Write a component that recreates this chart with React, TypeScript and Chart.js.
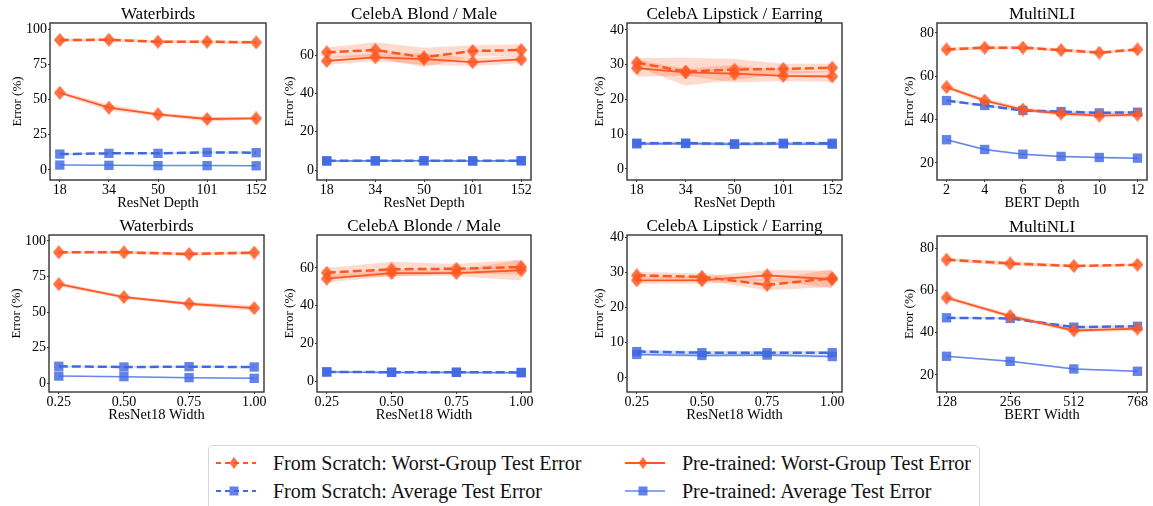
import React, { useEffect, useRef } from 'react';
import { Chart, registerables } from 'chart.js';
Chart.register(...registerables);

const FONT = "'Liberation Serif', 'Times New Roman', serif";
const ORANGE = '#ff5722';
const ORANGE_PT = 'rgba(255,87,34,0.85)';
const ORANGE_BAND = 'rgba(255,87,34,0.22)';
const BLUE = '#4169e1';
const BLUE_LIGHT = 'rgba(65,105,225,0.75)';
const BLUE_PT = 'rgba(65,105,225,0.82)';
const BLUE_BAND = 'rgba(65,105,225,0.2)';
const FRAME = '#333333';

// ---------- tick labels ----------
const depthLabels = ['18', '34', '50', '101', '152'];
const bertDepthLabels = ['2', '4', '6', '8', '10', '12'];
const widthLabels = ['0.25', '0.50', '0.75', '1.00'];
const bertWidthLabels = ['128', '256', '512', '768'];
const ticks100 = [0, 25, 50, 75, 100];
const ticks60 = [0, 20, 40, 60];
const ticks40 = [0, 10, 20, 30, 40];
const ticks80 = [20, 40, 60, 80];

// ---------- Waterbirds / depth ----------
const wbDepthSW = [92.2, 92.4, 91.0, 91.0, 90.5];
const wbDepthSWsd = [1.0, 1.0, 1.0, 1.0, 1.2];
const wbDepthPW = [54.8, 44.2, 39.5, 36.2, 36.6];
const wbDepthPWsd = [1.2, 2.2, 1.2, 1.8, 0.8];
const wbDepthSA = [11.3, 11.8, 11.8, 12.5, 12.3];
const wbDepthSAsd = [0.6, 0.6, 0.6, 0.8, 0.6];
const wbDepthPA = [3.5, 3.3, 3.1, 3.1, 3.0];
const wbDepthPAsd = [0.4, 0.4, 0.4, 0.4, 0.4];

// ---------- CelebA Blond / depth ----------
const cbDepthSW = [61.4, 62.6, 58.8, 62.1, 62.6];
const cbDepthSWsd = [2.5, 4.0, 5.0, 3.0, 3.0];
const cbDepthPW = [56.9, 58.8, 57.9, 56.3, 57.7];
const cbDepthPWsd = [2.0, 2.0, 3.0, 2.0, 2.0];
const cbDepthSA = [4.8, 4.8, 4.9, 4.8, 4.9];
const cbDepthSAsd = [0.4, 0.4, 0.4, 0.4, 0.4];
const cbDepthPA = [4.7, 4.8, 4.8, 4.7, 4.8];
const cbDepthPAsd = [0.4, 0.4, 0.4, 0.4, 0.4];

// ---------- CelebA Lipstick / depth ----------
const clDepthSW = [30.6, 28.0, 28.6, 28.8, 29.1];
const clDepthSWsd = [1.3, 4.0, 3.0, 1.5, 1.2];
const clDepthPW = [29.0, 27.8, 27.4, 26.8, 26.6];
const clDepthPWsd = [2.5, 1.0, 2.5, 1.5, 1.5];
const clDepthSA = [7.4, 7.4, 7.2, 7.4, 7.4];
const clDepthSAsd = [0.5, 0.5, 0.5, 0.5, 0.5];
const clDepthPA = [7.2, 7.3, 7.1, 7.2, 7.1];
const clDepthPAsd = [0.4, 0.4, 0.4, 0.4, 0.4];

// ---------- MultiNLI / depth ----------
const mnDepthSW = [72.4, 73.2, 73.2, 72.1, 70.9, 72.4];
const mnDepthSWsd = [0.8, 0.8, 0.8, 0.8, 0.8, 0.8];
const mnDepthPW = [55.0, 48.8, 44.6, 42.8, 41.8, 42.3];
const mnDepthPWsd = [1.0, 1.0, 1.0, 1.0, 1.0, 1.0];
const mnDepthSA = [48.8, 46.5, 44.2, 43.7, 43.1, 43.4];
const mnDepthSAsd = [0.6, 0.6, 0.6, 0.6, 0.6, 0.6];
const mnDepthPA = [30.7, 26.2, 24.0, 23.0, 22.5, 22.2];
const mnDepthPAsd = [0.5, 0.5, 0.5, 0.5, 0.5, 0.5];

// ---------- Waterbirds / width ----------
const wbWidthSW = [92.0, 92.0, 90.8, 91.8];
const wbWidthSWsd = [1.2, 1.2, 1.2, 1.2];
const wbWidthPW = [69.6, 60.5, 55.8, 52.7];
const wbWidthPWsd = [1.5, 1.2, 1.2, 2.0];
const wbWidthSA = [11.8, 11.3, 11.5, 11.3];
const wbWidthSAsd = [0.6, 0.6, 0.6, 0.6];
const wbWidthPA = [4.9, 4.5, 3.8, 3.3];
const wbWidthPAsd = [0.4, 0.4, 0.4, 0.4];

// ---------- CelebA Blonde / width ----------
const cbWidthSW = [57.5, 59.3, 59.6, 60.5];
const cbWidthSWsd = [2.5, 4.0, 2.5, 4.0];
const cbWidthPW = [54.3, 57.3, 57.3, 58.8];
const cbWidthPWsd = [2.0, 1.5, 1.5, 5.5];
const cbWidthSA = [4.9, 4.7, 4.7, 4.6];
const cbWidthSAsd = [0.4, 0.4, 0.4, 0.4];
const cbWidthPA = [4.8, 4.6, 4.6, 4.4];
const cbWidthPAsd = [0.4, 0.4, 0.4, 0.4];

// ---------- CelebA Lipstick / width ----------
const clWidthSW = [29.2, 28.8, 26.5, 28.4];
const clWidthSWsd = [1.0, 1.0, 1.5, 2.5];
const clWidthPW = [27.8, 27.8, 29.2, 28.1];
const clWidthPWsd = [1.0, 1.0, 1.5, 2.5];
const clWidthSA = [7.5, 7.2, 7.2, 7.2];
const clWidthSAsd = [0.5, 0.5, 0.5, 0.5];
const clWidthPA = [6.7, 6.4, 6.5, 6.1];
const clWidthPAsd = [0.4, 0.4, 0.4, 0.4];

// ---------- MultiNLI / width ----------
const mnWidthSW = [74.5, 72.7, 71.5, 72.1];
const mnWidthSWsd = [0.8, 1.2, 0.6, 0.6];
const mnWidthPW = [56.5, 47.8, 41.0, 41.9];
const mnWidthPWsd = [1.0, 1.0, 1.0, 1.0];
const mnWidthSA = [47.0, 46.7, 42.6, 43.0];
const mnWidthSAsd = [0.5, 0.5, 0.5, 0.5];
const mnWidthPA = [28.8, 26.4, 22.8, 21.7];
const mnWidthPAsd = [0.4, 0.4, 0.4, 0.4];

type Kind = 'sw' | 'pw' | 'sa' | 'pa';
type Series = { kind: Kind; data: number[]; sd: number[] };
type Panel = {
  title: string; xTitle: string; labels: string[]; series: Series[];
  yMin: number; yMax: number; yTicks: number[];
  L: number; R: number; T: number; B: number; rowTop: number; wy: number;
};

const mk = (sw: number[], sws: number[], pw: number[], pws: number[], sa: number[], sas: number[], pa: number[], pas: number[]): Series[] => [
  { kind: 'pa', data: pa, sd: pas },
  { kind: 'sa', data: sa, sd: sas },
  { kind: 'pw', data: pw, sd: pws },
  { kind: 'sw', data: sw, sd: sws },
];

const panels: Panel[] = [
  { title: 'Waterbirds', xTitle: 'ResNet Depth', labels: depthLabels,
    series: mk(wbDepthSW, wbDepthSWsd, wbDepthPW, wbDepthPWsd, wbDepthSA, wbDepthSAsd, wbDepthPA, wbDepthPAsd),
    yMin: -7.1, yMax: 104.3, yTicks: ticks100, L: 50, R: 266, T: 23, B: 180, rowTop: 0, wy: 40 },
  { title: 'CelebA Blond / Male', xTitle: 'ResNet Depth', labels: depthLabels,
    series: mk(cbDepthSW, cbDepthSWsd, cbDepthPW, cbDepthPWsd, cbDepthSA, cbDepthSAsd, cbDepthPA, cbDepthPAsd),
    yMin: -5.2, yMax: 76.7, yTicks: ticks60, L: 317, R: 531, T: 23, B: 180, rowTop: 0, wy: 35 },
  { title: 'CelebA Lipstick / Earring', xTitle: 'ResNet Depth', labels: depthLabels,
    series: mk(clDepthSW, clDepthSWsd, clDepthPW, clDepthPWsd, clDepthSA, clDepthSAsd, clDepthPA, clDepthPAsd),
    yMin: -3.2, yMax: 42.0, yTicks: ticks40, L: 627, R: 842, T: 23, B: 180, rowTop: 0, wy: 35 },
  { title: 'MultiNLI', xTitle: 'BERT Depth', labels: bertDepthLabels,
    series: mk(mnDepthSW, mnDepthSWsd, mnDepthPW, mnDepthPWsd, mnDepthSA, mnDepthSAsd, mnDepthPA, mnDepthPAsd),
    yMin: 12.1, yMax: 84.6, yTicks: ticks80, L: 937, R: 1147, T: 23, B: 180, rowTop: 0, wy: 35 },
  { title: 'Waterbirds', xTitle: 'ResNet18 Width', labels: widthLabels,
    series: mk(wbWidthSW, wbWidthSWsd, wbWidthPW, wbWidthPWsd, wbWidthSA, wbWidthSAsd, wbWidthPA, wbWidthPAsd),
    yMin: -6.3, yMax: 104.2, yTicks: ticks100, L: 49, R: 264, T: 235, B: 392, rowTop: 215, wy: 40 },
  { title: 'CelebA Blonde / Male', xTitle: 'ResNet18 Width', labels: widthLabels,
    series: mk(cbWidthSW, cbWidthSWsd, cbWidthPW, cbWidthPWsd, cbWidthSA, cbWidthSAsd, cbWidthPA, cbWidthPAsd),
    yMin: -5.8, yMax: 77.5, yTicks: ticks60, L: 317, R: 531, T: 235, B: 392, rowTop: 215, wy: 35 },
  { title: 'CelebA Lipstick / Earring', xTitle: 'ResNet18 Width', labels: widthLabels,
    series: mk(clWidthSW, clWidthSWsd, clWidthPW, clWidthPWsd, clWidthSA, clWidthSAsd, clWidthPA, clWidthPAsd),
    yMin: -4.0, yMax: 40.7, yTicks: ticks40, L: 627, R: 842, T: 235, B: 392, rowTop: 215, wy: 35 },
  { title: 'MultiNLI', xTitle: 'BERT Width', labels: bertWidthLabels,
    series: mk(mnWidthSW, mnWidthSWsd, mnWidthPW, mnWidthPWsd, mnWidthSA, mnWidthSAsd, mnWidthPA, mnWidthPAsd),
    yMin: 11.9, yMax: 85.7, yTicks: ticks80, L: 937, R: 1147, T: 236, B: 392, rowTop: 215, wy: 35 },
];

const HX = 32;
const PAD_R = 12;

function makeDiamond(w: number, h: number, color: string): HTMLCanvasElement {
  const c = document.createElement('canvas');
  c.width = w; c.height = h;
  const g = c.getContext('2d')!;
  g.fillStyle = color;
  g.beginPath();
  g.moveTo(w / 2, 0); g.lineTo(w, h / 2); g.lineTo(w / 2, h); g.lineTo(0, h / 2);
  g.closePath(); g.fill();
  return c;
}

const framePlugin = {
  id: 'frame',
  afterDraw(chart: any) {
    const { ctx, chartArea: a } = chart;
    ctx.save();
    ctx.strokeStyle = FRAME;
    ctx.lineWidth = 1.4;
    ctx.strokeRect(a.left, a.top, a.right - a.left, a.bottom - a.top);
    ctx.restore();
  },
};

const panelTitlePlugin = {
  id: 'panelTitle',
  afterDraw(chart: any, _args: any, opts: any) {
    const { ctx, chartArea: a } = chart;
    ctx.save();
    ctx.fillStyle = '#000';
    ctx.font = `17px ${FONT}`;
    ctx.textAlign = 'center';
    ctx.textBaseline = 'middle';
    ctx.fillText(opts.text, (a.left + a.right) / 2, a.top - 8.5);
    ctx.restore();
  },
};

function styleFor(kind: Kind, diamond: HTMLCanvasElement) {
  switch (kind) {
    case 'sw': return { color: ORANGE, dash: [9, 4], width: 2.5, point: diamond as any, pc: ORANGE_PT, band: ORANGE_BAND };
    case 'pw': return { color: ORANGE, dash: [] as number[], width: 1.8, point: diamond as any, pc: ORANGE_PT, band: ORANGE_BAND };
    case 'sa': return { color: BLUE, dash: [9, 4], width: 2.5, point: 'rect', pc: BLUE_PT, band: BLUE_BAND };
    default: return { color: BLUE_LIGHT, dash: [] as number[], width: 1.5, point: 'rect', pc: BLUE_PT, band: BLUE_BAND };
  }
}

function PanelChart({ p }: { p: Panel }) {
  const ref = useRef<HTMLCanvasElement>(null);
  const w = (p.R - p.L) + p.wy + PAD_R;
  const h = (p.B - p.rowTop) + HX;
  useEffect(() => {
    const diamond = makeDiamond(12, 14, ORANGE_PT);
    const n = p.labels.length;
    const datasets: any[] = [];
    p.series.forEach((s) => {
      const st = styleFor(s.kind, diamond);
      const upIdx = datasets.length;
      datasets.push({
        data: s.data.map((v, i) => ({ x: i, y: v + s.sd[i] })),
        borderWidth: 0, pointRadius: 0, fill: false, order: 10,
      });
      datasets.push({
        data: s.data.map((v, i) => ({ x: i, y: v - s.sd[i] })),
        borderWidth: 0, pointRadius: 0, fill: upIdx, backgroundColor: st.band, order: 10,
      });
    });
    p.series.forEach((s, k) => {
      const st = styleFor(s.kind, diamond);
      datasets.push({
        data: s.data.map((v, i) => ({ x: i, y: v })),
        borderColor: st.color, borderWidth: st.width, borderDash: st.dash,
        pointStyle: st.point, pointRadius: 6.6, pointBackgroundColor: st.pc,
        pointBorderWidth: 0, fill: false, tension: 0, order: 4 - k,
      });
    });
    const chart = new Chart(ref.current!, {
      type: 'line',
      data: { datasets },
      plugins: [framePlugin, panelTitlePlugin],
      options: {
        animation: false, responsive: false, devicePixelRatio: 1, events: [],
        layout: { padding: { top: p.T - p.rowTop, right: PAD_R, left: 0, bottom: 0 } },
        plugins: {
          legend: { display: false }, tooltip: { enabled: false }, title: { display: false },
          panelTitle: { text: p.title },
        },
        scales: {
          x: {
            type: 'linear', min: -0.05 * (n - 1), max: (n - 1) * 1.05,
            afterBuildTicks: (sc: any) => { sc.ticks = p.labels.map((_, i) => ({ value: i })); },
            afterFit: (sc: any) => { sc.height = HX; },
            ticks: { callback: (v: any) => p.labels[Math.round(Number(v))] ?? '', color: '#000',
              font: { family: FONT, size: 14, lineHeight: 1 }, padding: 1, maxRotation: 0, autoSkip: false },
            grid: { display: true, drawOnChartArea: false, drawTicks: true, tickLength: 2, color: FRAME },
            border: { display: false },
            title: { display: true, text: p.xTitle, color: '#000', padding: 0,
              font: { family: FONT, size: 14.5, lineHeight: 1.2 } },
          },
          y: {
            type: 'linear', min: p.yMin, max: p.yMax,
            afterBuildTicks: (sc: any) => { sc.ticks = p.yTicks.map((v) => ({ value: v })); },
            afterFit: (sc: any) => { sc.width = p.wy; },
            ticks: { callback: (v: any) => String(v), color: '#000',
              font: { family: FONT, size: 14, lineHeight: 1 }, padding: 1, autoSkip: false },
            grid: { display: true, drawOnChartArea: false, drawTicks: true, tickLength: 2, color: FRAME },
            border: { display: false },
            title: { display: true, text: 'Error (%)', color: '#000', padding: 0,
              font: { family: FONT, size: 13, lineHeight: 1.2 } },
          },
        },
      } as any,
    });
    return () => chart.destroy();
  }, []);
  return (
    <canvas ref={ref} width={w} height={h}
      style={{ position: 'absolute', left: p.L - p.wy, top: p.rowTop, width: w, height: h }} />
  );
}

const legendItems: { label: string; kind: Kind; x: number; tx: number; y: number }[] = [
  { label: 'From Scratch: Worst-Group Test Error', kind: 'sw', x: 216, tx: 273, y: 463 },
  { label: 'Pre-trained: Worst-Group Test Error', kind: 'pw', x: 625, tx: 682, y: 463 },
  { label: 'From Scratch: Average Test Error', kind: 'sa', x: 216, tx: 273, y: 491 },
  { label: 'Pre-trained: Average Test Error', kind: 'pa', x: 625, tx: 682, y: 491 },
];

function LegendMarker({ kind }: { kind: Kind }) {
  const orange = kind === 'sw' || kind === 'pw';
  const dashed = kind === 'sw' || kind === 'sa';
  const lineColor = orange ? ORANGE : kind === 'sa' ? BLUE : 'rgba(65,105,225,0.6)';
  return (
    <svg width={40} height={16} style={{ display: 'block' }}>
      <line x1={0} y1={8} x2={40} y2={8} stroke={lineColor} strokeWidth={dashed ? 2 : 1.8}
        strokeDasharray={dashed ? '5 4' : undefined} />
      {orange
        ? <polygon points="18,2 22.5,8 18,14 13.5,8" fill={ORANGE_PT} />
        : <rect x={13.5} y={3.5} width={9} height={9} fill={BLUE_PT} />}
    </svg>
  );
}

export default function App() {
  return (
    <div style={{ position: 'absolute', left: 0, top: 0, width: 1153, height: 506, overflow: 'hidden', background: '#fff' }}>
      {panels.map((p, i) => <PanelChart key={i} p={p} />)}
      <div style={{ position: 'absolute', left: 208, top: 445, width: 772, height: 80,
        border: '1px solid #d6d6d6', borderRadius: 5, boxSizing: 'border-box' }} />
      {legendItems.map((it, i) => (
        <React.Fragment key={i}>
          <div style={{ position: 'absolute', left: it.x, top: it.y - 8 }}>
            <LegendMarker kind={it.kind} />
          </div>
          <div style={{ position: 'absolute', left: it.tx, top: it.y - 12, height: 24, lineHeight: '24px',
            fontFamily: FONT, fontSize: 20, color: '#111', whiteSpace: 'nowrap' }}>{it.label}</div>
        </React.Fragment>
      ))}
    </div>
  );
}
